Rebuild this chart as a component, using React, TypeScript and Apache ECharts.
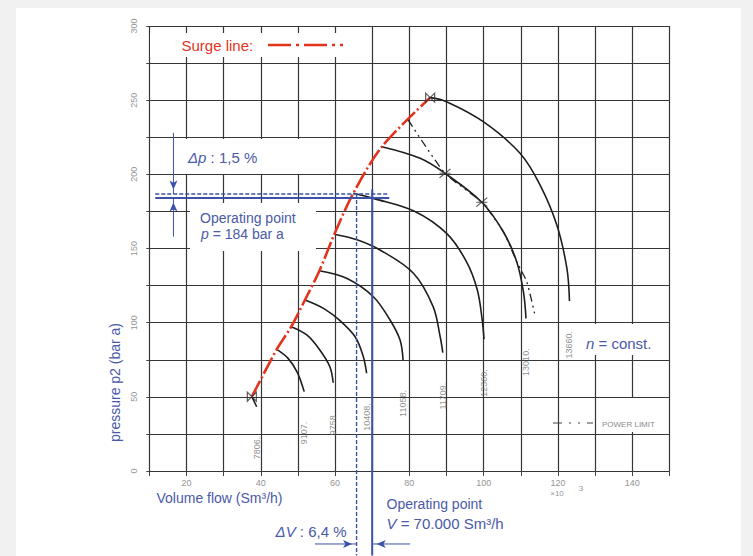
import React, { useEffect, useRef } from 'react';
import * as echarts from 'echarts';

// ---------- data ----------
const xTickLabels = [20, 40, 60, 80, 100, 120, 140];
const yTickLabels = [0, 50, 100, 150, 200, 250, 300];

const speedLabels = ['7806.', '9107.', '9758.', '10408.', '11058.', '11709.', '12360.', '13010.', '13660.'];

const curve7806 = [[37.6, 50.1], [38.9, 43.3]];
const curve9107 = [[44.3, 82.0], [47.3, 76.1], [49.8, 66.7], [51.7, 53.5]];
const curve9758 = [[48.2, 97.3], [52.4, 91.7], [55.9, 81.6], [58.6, 70.3], [59.5, 59.5]];
const curve10408 = [[51.9, 115.3], [57.0, 109.5], [61.5, 101.0], [65.4, 90.5], [67.5, 78.0], [68.5, 65.9]];
const curve11058 = [[55.8, 135.0], [63.1, 129.9], [70.3, 117.5], [74.8, 101.8], [77.5, 88.3], [78.3, 74.8]];
const curve11709 = [[59.8, 159.6], [65.9, 155.9], [72.1, 149.0], [81.1, 133.3], [86.4, 110.8], [88.3, 90.5], [89.0, 79.8]];
const curve12360 = [[64.9, 187.2], [70.3, 183.8], [81.5, 175.0], [90.1, 160.0], [95.4, 141.0], [98.3, 122.0], [99.6, 102.0], [100.1, 88.8]];
const curve13010 = [[72.6, 218.6], [82.9, 210.8], [89.6, 200.7], [99.5, 181.2], [105.3, 161.3], [108.9, 141.1], [110.7, 120.9], [111.4, 102.9]];
const curve13660 = [[85.6, 251.7], [90.0, 249.0], [99.9, 235.5], [109.8, 214.2], [115.2, 192.8], [119.7, 165.8], [122.4, 136.7], [123.1, 114.6]];

const speedCurves = [curve7806, curve9107, curve9758, curve10408, curve11058, curve11709, curve12360, curve13010, curve13660];

const powerLimit = [[79.7, 236.6], [89.6, 200.7], [99.5, 181.2], [105.3, 161.3], [108.9, 141.1], [111.6, 127.6], [113.8, 105.2]];
const powerCrossings = [[89.6, 200.7], [99.5, 181.2]];

const opVolume = 70; // x 1000 Sm3/h
const opPressure = 184; // bar a
const deltaVPercent = 6.4;
const deltaPPercent = 1.5;
const surgeVolume = opVolume / (1 + deltaVPercent / 100);
const surgePressure = opPressure * (1 + deltaPPercent / 100);

const opLineFromX = 11.6;
const opLineToX = 74.6;
const opVerticalTop = 190;
const pageBottomY = -57;
const dpArrowX = 16.5;
const dpArrowTop = 228;
const dpArrowBottom = 158;
const dvArrowY = -49.2;
const dvArrowFrom = 54.6;
const dvArrowTo = 80.2;

// ---------- styles ----------
const FONT = '"Liberation Sans", Arial, Helvetica, sans-serif';
const BLUE = '#4a5aa8';
const LINE_BLUE = '#3b52a8';
const RED = '#e2341d';
const GRID = '#363636';
const GREY_TXT = '#959595';

function text(x: number, y: number, t: string, size: number, color: string, extra: any = {}) {
  return {
    type: 'text',
    x,
    y,
    z: 10,
    silent: true,
    rotation: extra.rotation || 0,
    style: {
      text: t,
      fill: color,
      fontSize: size,
      fontFamily: FONT,
      textAlign: extra.align || 'left',
      textVerticalAlign: 'middle',
      rich: {
        i: { fontStyle: 'italic', fontSize: size, fontFamily: FONT, fill: color },
      },
    },
  };
}

function mask(x: number, y: number, w: number, h: number) {
  return { type: 'rect', z: 1, silent: true, shape: { x, y, width: w, height: h }, style: { fill: '#ffffff' } };
}

function buildOption() {
  const curveSeries = speedCurves.map((c) => ({
    type: 'line',
    data: c,
    smooth: 0.35,
    symbol: 'none',
    silent: true,
    lineStyle: { color: '#1e1e1e', width: 1.6 },
    z: 3,
  }));

  const surge = speedCurves.map((c) => c[0]);

  const arrowItem = (x: number, y: number, rot: number, off: number[]) => ({
    value: [x, y],
    symbol: 'arrow',
    symbolSize: [6, 9],
    symbolRotate: rot,
    symbolOffset: off,
  });

  const series: any[] = [
    ...curveSeries,
    {
      type: 'line',
      data: surge,
      smooth: 0.3,
      symbol: 'none',
      lineStyle: { color: RED, width: 2.6, type: [18, 3, 2, 3] },
      z: 4,
    },
    {
      type: 'line',
      data: powerLimit,
      smooth: 0.2,
      symbol: 'none',
      lineStyle: { color: '#222', width: 1.3, type: [8, 4, 2, 4, 2, 4] },
      z: 4,
    },
    {
      type: 'scatter',
      data: [surge[0], surge[surge.length - 1]],
      symbol: 'path://M0,0L10,10L10,0L0,10Z',
      symbolSize: [9, 9],
      itemStyle: { color: 'transparent', borderColor: '#333', borderWidth: 1.2 },
      z: 5,
    },
    {
      type: 'scatter',
      data: powerCrossings,
      symbol: 'path://M0,0L12,10M12,0L0,10M0,5L12,5',
      symbolSize: [11, 9],
      itemStyle: { color: 'transparent', borderColor: '#333', borderWidth: 1.1 },
      z: 5,
    },
    {
      type: 'scatter',
      data: speedCurves.map((c, i) => ({ value: c[c.length - 1], name: speedLabels[i] })),
      symbolSize: 1,
      itemStyle: { color: 'transparent' },
      label: {
        show: true,
        formatter: '{b}',
        position: 'inside',
        rotate: 90,
        align: 'right',
        verticalAlign: 'middle',
        padding: [0, 30, 0, 0],
        color: '#707070',
        fontSize: 9,
        fontFamily: FONT,
      },
      z: 5,
    },
    // operating point lines
    {
      type: 'line',
      data: [[opLineFromX, opPressure], [opLineToX, opPressure]],
      symbol: 'none',
      clip: false,
      lineStyle: { color: LINE_BLUE, width: 2 },
      z: 6,
    },
    {
      type: 'line',
      data: [[opLineFromX, surgePressure], [opLineToX, surgePressure]],
      symbol: 'none',
      clip: false,
      lineStyle: { color: LINE_BLUE, width: 1.4, type: [4, 2] },
      z: 6,
    },
    {
      type: 'line',
      data: [[opVolume, opVerticalTop], [opVolume, pageBottomY]],
      symbol: 'none',
      clip: false,
      lineStyle: { color: LINE_BLUE, width: 2 },
      z: 6,
    },
    {
      type: 'line',
      data: [[surgeVolume, surgePressure], [surgeVolume, pageBottomY]],
      symbol: 'none',
      clip: false,
      lineStyle: { color: LINE_BLUE, width: 1.4, type: [4, 2] },
      z: 6,
    },
    // arrows
    ...[
      [{ value: [dpArrowX, dpArrowTop], symbol: 'none' }, arrowItem(dpArrowX, surgePressure, 180, [0, -4.5])],
      [{ value: [dpArrowX, dpArrowBottom], symbol: 'none' }, arrowItem(dpArrowX, opPressure, 0, [0, 4.5])],
      [{ value: [dvArrowFrom, dvArrowY], symbol: 'none' }, arrowItem(surgeVolume, dvArrowY, -90, [-4.5, 0])],
      [{ value: [dvArrowTo, dvArrowY], symbol: 'none' }, arrowItem(opVolume, dvArrowY, 90, [4.5, 0])],
    ].map((d) => ({
      type: 'line',
      data: d,
      clip: false,
      showSymbol: true,
      lineStyle: { color: LINE_BLUE, width: 1 },
      itemStyle: { color: LINE_BLUE },
      z: 6,
    })),
  ];

  const graphic = [
    mask(150, 33, 195, 24),
    mask(181, 139, 122, 35),
    mask(190, 203, 126, 48),
    mask(582, 324, 78, 31),
    mask(600, 398, 62, 34),
    text(181.5, 45, 'Surge line:', 15, RED),
    {
      type: 'line',
      z: 10,
      silent: true,
      shape: { x1: 268, y1: 45, x2: 345, y2: 45 },
      style: { stroke: RED, lineWidth: 2.6, lineDash: [23, 5, 3, 5, 23, 5, 3, 5, 3, 50] },
    },
    text(188, 157, '{i|Δp} : 1,5 %', 15, BLUE),
    text(200, 217.5, 'Operating point', 14, BLUE),
    text(201, 234, '{i|p} = 184 bar a', 14, BLUE),
    text(586, 343, '{i|n} = const.', 15, BLUE),
    text(602, 424, 'POWER LIMIT', 8, '#8a8a8a'),
    {
      type: 'line',
      z: 10,
      silent: true,
      shape: { x1: 553, y1: 423, x2: 596, y2: 423 },
      style: { stroke: '#444', lineWidth: 1.2, lineDash: [9, 7, 2, 7, 2, 7, 6, 40] },
    },
    text(156.5, 498, 'Volume flow (Sm³/h)', 14, BLUE),
    text(386.5, 503.5, 'Operating point', 14, BLUE),
    text(386.5, 523, '{i|V} = 70.000 Sm³/h', 15, BLUE),
    text(346.5, 531.5, '{i|ΔV} : 6,4 %', 15, BLUE, { align: 'right' }),
    text(115, 382.5, 'pressure p2 (bar a)', 14, BLUE, { rotation: Math.PI / 2, align: 'center' }),
    text(557, 493, '×10', 8, GREY_TXT, { align: 'center' }),
    text(581, 488, '3', 8, GREY_TXT, { align: 'center' }),
  ];

  return {
    animation: false,
    backgroundColor: 'transparent',
    textStyle: { fontFamily: FONT },
    grid: { left: 149.3, right: 83.6, top: 26, bottom: 85, containLabel: false, outerBoundsMode: 'none' },
    xAxis: {
      type: 'value',
      min: 10,
      max: 150,
      interval: 10,
      axisLine: { show: false },
      axisTick: { show: true, length: 5, lineStyle: { color: '#444', width: 1 } },
      axisLabel: {
        formatter: (v: number) => (xTickLabels.includes(v) ? String(v) : ''),
        color: GREY_TXT,
        fontSize: 9,
        margin: 7,
        fontFamily: FONT,
      },
      splitLine: { show: true, lineStyle: { color: GRID, width: 1.2 } },
    },
    yAxis: {
      type: 'value',
      min: 0,
      max: 300,
      interval: 25,
      axisLine: { show: false },
      axisTick: { show: true, length: 3, lineStyle: { color: '#444', width: 1 } },
      axisLabel: {
        formatter: (v: number) => (yTickLabels.includes(v) ? String(v) : ''),
        rotate: 90,
        color: GREY_TXT,
        fontSize: 9,
        margin: 11,
        fontFamily: FONT,
      },
      splitLine: { show: true, lineStyle: { color: GRID, width: 1.2 } },
    },
    graphic,
    series,
  };
}

export default function App() {
  const ref = useRef<HTMLDivElement>(null);
  useEffect(() => {
    if (!ref.current) return;
    const chart = echarts.init(ref.current, null, { renderer: 'svg' });
    chart.setOption(buildOption() as any);
    return () => chart.dispose();
  }, []);
  return (
    <div style={{ position: 'fixed', left: 0, top: 0, width: 753, height: 556, background: '#f1f1f1', overflow: 'hidden' }}>
      <div style={{ position: 'absolute', left: 16, top: 8, width: 725, height: 548, background: '#ffffff' }} />
      <div ref={ref} style={{ position: 'absolute', left: 0, top: 0, width: 753, height: 556 }} />
    </div>
  );
}
